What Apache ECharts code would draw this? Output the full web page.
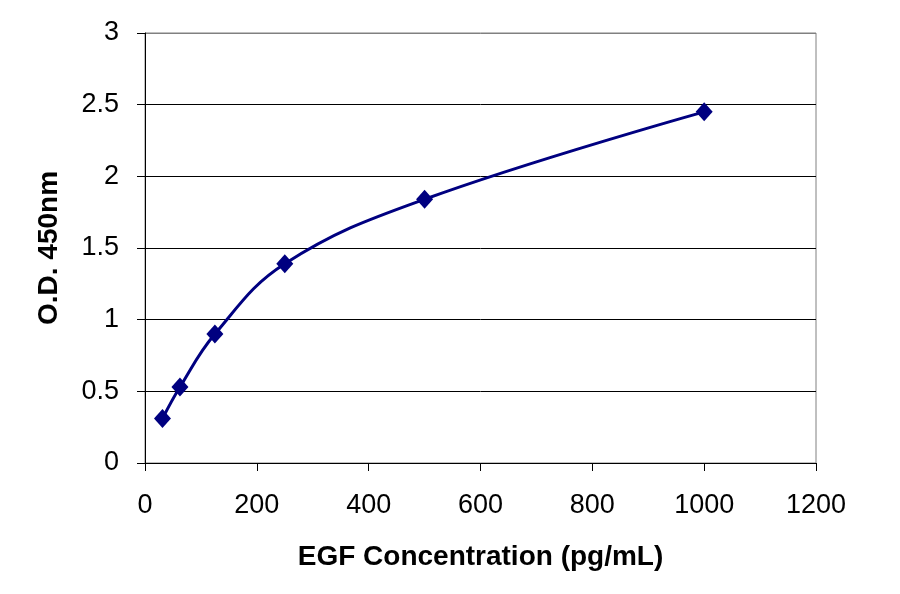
<!DOCTYPE html>
<html><head><meta charset="utf-8">
<script src="https://cdn.jsdelivr.net/npm/echarts@6/dist/echarts.min.js"></script>
<style>html,body{margin:0;padding:0;background:#fff}#c{width:900px;height:594px}</style>
</head><body><div id="c"></div>
<script>
const concentration = [31.25, 62.5, 125, 250, 500, 1000];
const od450 = [0.31, 0.53, 0.90, 1.39, 1.84, 2.45];
const xTitle = 'EGF Concentration (pg/mL)';
const yTitle = 'O.D. 450nm';

const chart = echarts.init(document.getElementById('c'));
const font = 'Liberation Sans, Arial, sans-serif';
chart.setOption({
  animation: false,
  grid: {left: 145, right: 84, top: 33, bottom: 131, show: true, borderColor: '#808080', borderWidth: 1},
  xAxis: {
    type: 'value', min: 0, max: 1200, interval: 200,
    name: xTitle, nameLocation: 'middle', nameGap: 80,
    nameTextStyle: {fontFamily: font, fontSize: 28, fontWeight: 'bold', color: '#000'},
    axisLine: {lineStyle: {color: '#000', width: 1}},
    axisTick: {show: true, length: 8, lineStyle: {color: '#000'}},
    axisLabel: {fontFamily: font, fontSize: 27, color: '#000', margin: 29, formatter: v => String(v)},
    splitLine: {show: false}
  },
  yAxis: {
    type: 'value', min: 0, max: 3, interval: 0.5,
    name: yTitle, nameLocation: 'middle', nameGap: 82,
    nameTextStyle: {fontFamily: font, fontSize: 28, fontWeight: 'bold', color: '#000'},
    axisLine: {show: true, lineStyle: {color: '#000', width: 1}},
    axisTick: {show: true, length: 8, lineStyle: {color: '#000'}},
    axisLabel: {fontFamily: font, fontSize: 27, color: '#000', margin: 26, formatter: v => String(v)},
    splitLine: {show: true, lineStyle: {color: ['#000','#000','#000','#000','#000','#000','#808080'], width: 1}}
  },
  series: [{
    type: 'line',
    data: concentration.map((x, i) => [x, od450[i]]),
    smooth: 0.4,
    symbol: 'diamond', symbolSize: [17, 19],
    lineStyle: {color: '#000080', width: 3},
    itemStyle: {color: '#000080'}
  }]
});
</script></body></html>
